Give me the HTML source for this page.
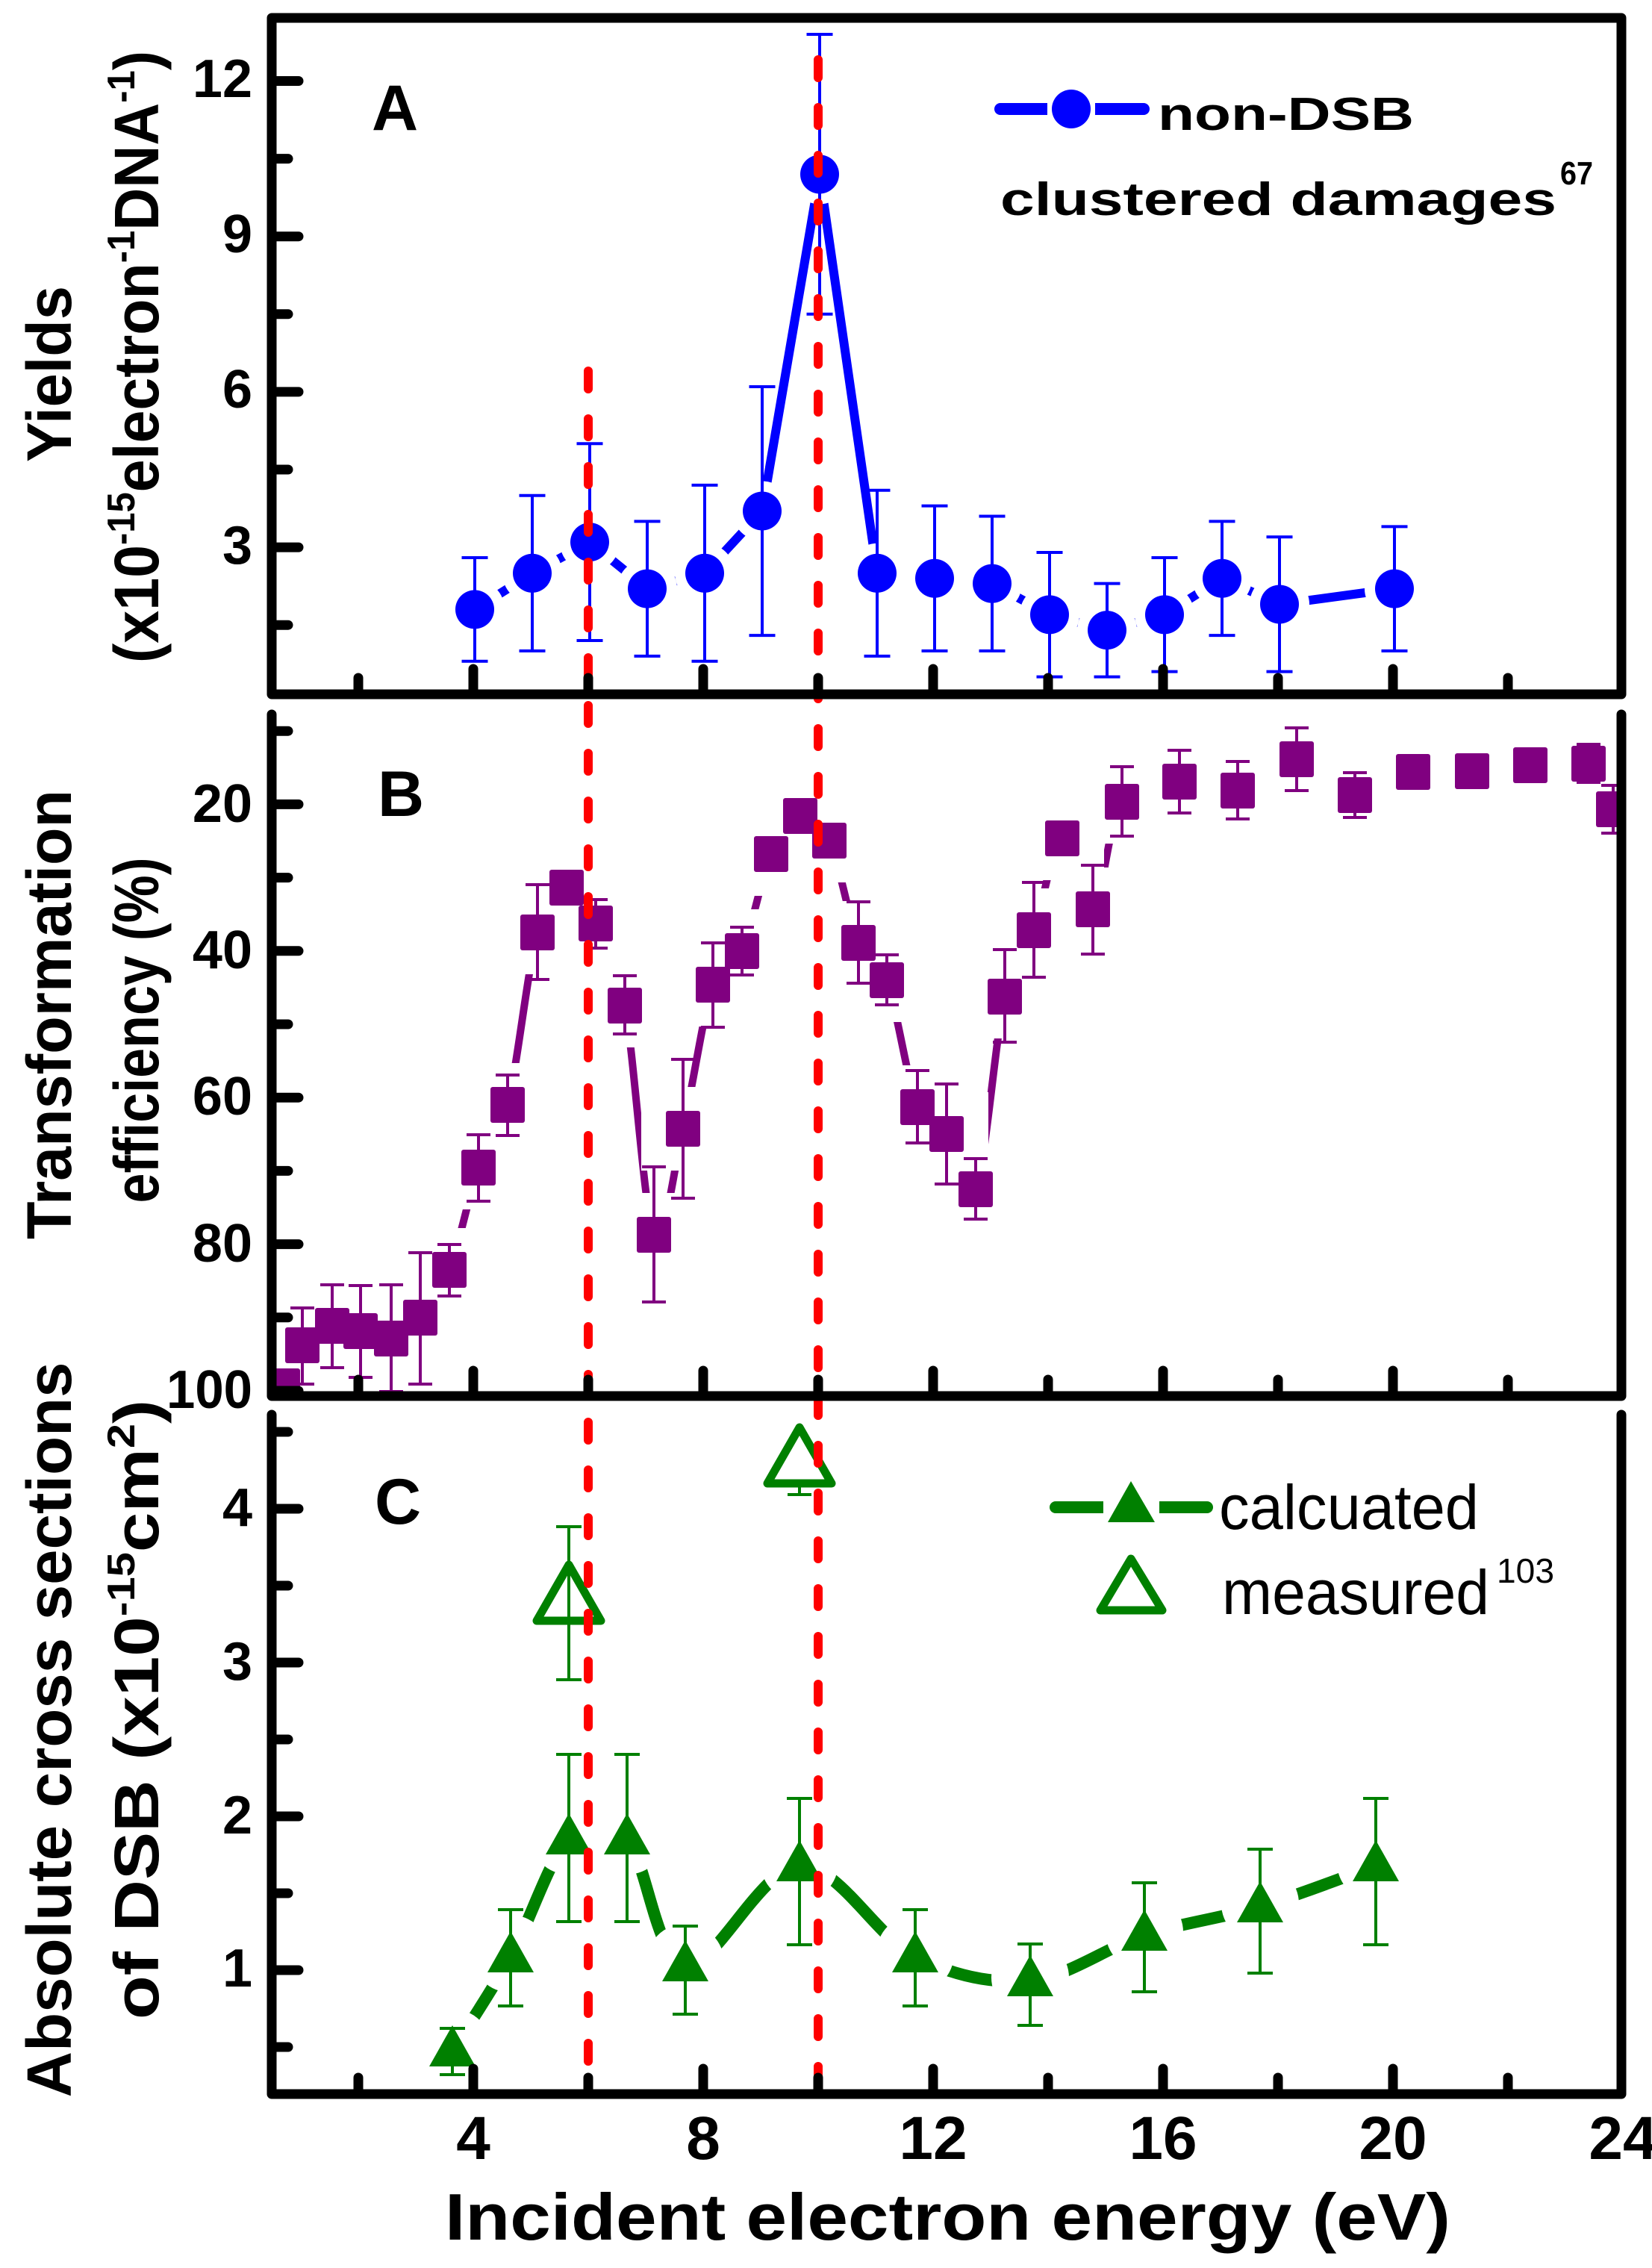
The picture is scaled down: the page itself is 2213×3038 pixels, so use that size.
<!DOCTYPE html>
<html><head><meta charset="utf-8"><style>
html,body{margin:0;padding:0;background:#fff}
svg{display:block}
text{font-family:"Liberation Sans",Arial,sans-serif}
</style></head><body>
<svg id="s" xmlns="http://www.w3.org/2000/svg" width="2213" height="3038" viewBox="0 0 2213 3038">
<defs>
<clipPath id="cB"><rect x="364" y="957" width="1808" height="913"/></clipPath>
</defs>
<g id="data"></g>
<g id="reds" stroke="#ff0000" stroke-width="12" stroke-linecap="round" stroke-dasharray="24 40" fill="none">
<line x1="788" y1="497" x2="788" y2="2787"/>
<line x1="1096" y1="80" x2="1096" y2="2787"/>
</g>
<g id="frames" fill="none" stroke="#000" stroke-width="13" stroke-linejoin="round" stroke-linecap="round">
<rect x="364" y="24" width="1808" height="906"/>
<path d="M364 957 V1870 H2172 V957"/>
<path d="M364 1895 V2805 H2172 V1895"/>
</g>
<g id="ticks" stroke="#000" stroke-width="13" stroke-linecap="round"></g>
<g font-weight="bold" fill="#000" font-size="72" text-anchor="end">
<text x="338" y="130">12</text>
<text x="338" y="338">9</text>
<text x="338" y="546">6</text>
<text x="338" y="755">3</text>
<text x="338" y="1101">20</text>
<text x="338" y="1297">40</text>
<text x="338" y="1493">60</text>
<text x="338" y="1690">80</text>
<text x="338" y="1886" textLength="115" lengthAdjust="spacingAndGlyphs">100</text>
<text x="338" y="2044">4</text>
<text x="338" y="2250">3</text>
<text x="338" y="2456">2</text>
<text x="338" y="2661">1</text>
</g>
<g font-weight="bold" fill="#000" font-size="82" text-anchor="middle">
<text x="634" y="2892">4</text>
<text x="942" y="2892">8</text>
<text x="1250" y="2892">12</text>
<text x="1558" y="2892">16</text>
<text x="1866" y="2892">20</text>
<text x="2174" y="2892">24</text>
</g>
<text x="596" y="3000" font-weight="bold" font-size="88" textLength="1347" lengthAdjust="spacingAndGlyphs">Incident electron energy (eV)</text>
<g font-weight="bold" font-size="86">
<text x="498" y="174">A</text>
<text x="506" y="1093">B</text>
<text x="502" y="2041">C</text>
</g>
<g font-weight="bold" font-size="84" text-anchor="middle">
<text transform="translate(95,501) rotate(-90)" textLength="236" lengthAdjust="spacingAndGlyphs">Yields</text>
<text transform="translate(212,478) rotate(-90)" textLength="820" lengthAdjust="spacingAndGlyphs">(x10<tspan font-size="52" dy="-32">-15</tspan><tspan dy="32">electron</tspan><tspan font-size="52" dy="-32">-1</tspan><tspan dy="32">DNA</tspan><tspan font-size="52" dy="-32">-1</tspan><tspan dy="32">)</tspan></text>
<text transform="translate(95,1359) rotate(-90)" textLength="602" lengthAdjust="spacingAndGlyphs">Transformation</text>
<text transform="translate(212,1380) rotate(-90)" textLength="463" lengthAdjust="spacingAndGlyphs">efficiency (%)</text>
<text transform="translate(95,2317) rotate(-90)" textLength="985" lengthAdjust="spacingAndGlyphs">Absolute cross sections</text>
<text transform="translate(212,2290) rotate(-90)" textLength="830" lengthAdjust="spacingAndGlyphs">of DSB (x10<tspan font-size="52" dy="-32">-15</tspan><tspan dy="32">cm</tspan><tspan font-size="52" dy="-32">2</tspan><tspan dy="32">)</tspan></text>
</g>
<!-- legend A -->
<line x1="1340" y1="146" x2="1532" y2="146" stroke="#0000ff" stroke-width="16" stroke-linecap="round"/>
<line x1="1403" y1="146" x2="1467" y2="146" stroke="#fff" stroke-width="20"/>
<circle cx="1435" cy="146" r="26" fill="#0000ff"/>
<text x="1551" y="174" font-weight="bold" font-size="62" textLength="343" lengthAdjust="spacingAndGlyphs">non-DSB</text>
<text x="1340" y="288" font-weight="bold" font-size="62" textLength="745" lengthAdjust="spacingAndGlyphs">clustered damages</text>
<text x="2090" y="247" font-weight="bold" font-size="44" textLength="44" lengthAdjust="spacingAndGlyphs">67</text>
<!-- legend C -->
<line x1="1414" y1="2019" x2="1617" y2="2019" stroke="#008000" stroke-width="16" stroke-linecap="round"/>
<line x1="1478" y1="2019" x2="1553" y2="2019" stroke="#fff" stroke-width="20"/>
<polygon points="1515,1984 1547,2039 1484,2039" fill="#008000"/>
<text x="1633" y="2048" font-size="84" textLength="348" lengthAdjust="spacingAndGlyphs">calcuated</text>
<polygon points="1515,2088 1557,2157 1474,2157" fill="none" stroke="#008000" stroke-width="11" stroke-linejoin="round"/>
<text x="1637" y="2162" font-size="84" textLength="358" lengthAdjust="spacingAndGlyphs">measured</text>
<text x="2005" y="2120" font-size="46" textLength="77" lengthAdjust="spacingAndGlyphs">103</text>
</svg>
<script>
(function(){
var NS="http://www.w3.org/2000/svg";
var D=document.getElementById('data'), T=document.getElementById('ticks');
function el(n,a,p){var e=document.createElementNS(NS,n);for(var k in a)e.setAttribute(k,a[k]);(p||D).appendChild(e);return e;}
function X(e){return 326+77*e;}
function spline(P){var d="M"+P[0][0]+" "+P[0][1];
 for(var i=0;i<P.length-1;i++){var p0=P[Math.max(0,i-1)],p1=P[i],p2=P[i+1],p3=P[Math.min(P.length-1,i+2)];
 d+=" C"+(p1[0]+(p2[0]-p0[0])/6)+" "+(p1[1]+(p2[1]-p0[1])/6)+" "+(p2[0]-(p3[0]-p1[0])/6)+" "+(p2[1]-(p3[1]-p1[1])/6)+" "+p2[0]+" "+p2[1];}
 return d;}
function ebar(x,t,b,c,cw){ if(t==null)return;
 el('line',{x1:x,y1:t,x2:x,y2:b,stroke:c,'stroke-width':4});
 el('line',{x1:x-cw/2,y1:t,x2:x+cw/2,y2:t,stroke:c,'stroke-width':4});
 el('line',{x1:x-cw/2,y1:b,x2:x+cw/2,y2:b,stroke:c,'stroke-width':4});}
// Panel A
function YA(v){return 941.3-69.4*v;}
var A=[[4,1.8,2.8,0.8],[5,2.5,4.0,1.0],[6,3.1,5.0,1.2],[7,2.2,3.5,0.9],[8,2.5,4.2,0.8],[9,3.7,6.1,1.3],[10,10.2,12.9,7.5],[11,2.5,4.1,0.9],[12,2.4,3.8,1.0],[13,2.3,3.6,1.0],[14,1.7,2.9,0.5],[15,1.4,2.3,0.5],[16,1.7,2.8,0.6],[17,2.4,3.5,1.3],[18,1.9,3.2,0.6],[20,2.2,3.4,1.0]];
var pts=A.map(function(a){return [X(a[0])+2,YA(a[1])];});
el('polyline',{points:pts.map(function(p){return p.join(',')}).join(' '),fill:'none',stroke:'#0000ff','stroke-width':12,'stroke-linejoin':'round'});
pts.forEach(function(p){el('circle',{cx:p[0],cy:p[1],r:40,fill:'#fff'});});
A.forEach(function(a,i){ebar(pts[i][0],YA(a[2]),YA(a[3]),'#0000ff',35);});
pts.forEach(function(p){el('circle',{cx:p[0],cy:p[1],r:26,fill:'#0000ff'});});
// Panel B
var gB=el('g',{'clip-path':'url(#cB)'});
var B=[[379,1857],[405,1802,1752,1854],[445,1776,1721,1832],[483,1783,1722,1845],[524,1793,1721,1864],[563,1765,1678,1854],[602,1701,1667,1736],[641,1564,1520,1609],[680,1480,1440,1521],[720,1249,1185,1312],[759,1189],[798,1237,1205,1270],[837,1347,1307,1385],[876,1654,1563,1744],[915,1512,1419,1605],[955,1319,1263,1376],[994,1274,1242,1306],[1033,1144],[1072,1093],[1111,1126],[1150,1263,1208,1317],[1188,1313,1279,1346],[1229,1483,1434,1531],[1268,1519,1452,1586],[1307,1593,1552,1633],[1346,1335,1272,1396],[1385,1246,1182,1309],[1423,1123],[1464,1218,1159,1278],[1503,1074,1027,1120],[1580,1047,1005,1089],[1658,1059,1020,1097],[1737,1017,975,1059],[1815,1065,1035,1095],[1893,1034],[1972,1033],[2050,1025],[2128,1023,997,1048],[2161,1084,1052,1116]];
el('path',{d:spline(B),fill:'none',stroke:'#800080','stroke-width':10,'stroke-linecap':'round'},gB);
B.forEach(function(p){el('rect',{x:p[0]-56,y:p[1]-56,width:112,height:112,fill:'#fff'},gB);});
B.forEach(function(p){ if(p[2]){var g=gB;var x=p[0];
 el('line',{x1:x,y1:p[2],x2:x,y2:p[3],stroke:'#800080','stroke-width':4},g);
 el('line',{x1:x-16,y1:p[2],x2:x+16,y2:p[2],stroke:'#800080','stroke-width':4},g);
 el('line',{x1:x-16,y1:p[3],x2:x+16,y2:p[3],stroke:'#800080','stroke-width':4},g);}});
B.forEach(function(p){el('rect',{x:p[0]-23,y:p[1]-24,width:46,height:48,rx:3,fill:'#800080'},gB);});
// Panel C
var C=[[606,2747,2717,2779],[684,2621,2558,2687],[762,2463,2350,2574],[840,2463,2350,2574],[918,2633,2580,2698],[1071,2499,2409,2605],[1226,2621,2558,2687],[1380,2653,2604,2713],[1533,2592,2522,2668],[1688,2554,2477,2643],[1843,2499,2409,2605]];
el('path',{d:spline(C),fill:'none',stroke:'#008000','stroke-width':16,'stroke-linecap':'round'});
C.forEach(function(p){el('circle',{cx:p[0],cy:p[1]-4,r:52,fill:'#fff'});});
C.forEach(function(p){ebar(p[0],p[2],p[3],'#008000',34);});
C.forEach(function(p){var x=p[0],y=p[1];el('polygon',{points:(x)+','+(y-34)+' '+(x+31)+','+(y+21)+' '+(x-31)+','+(y+21),fill:'#008000'});});
// measured
ebar(762,2045,2250,'#008000',34);
el('line',{x1:1071,y1:2002,x2:1071,y2:1990,stroke:'#008000','stroke-width':4});
el('line',{x1:1055,y1:2002,x2:1087,y2:2002,stroke:'#008000','stroke-width':4});
[[762,2096,2171],[1071,1912,1987]].forEach(function(t){var x=t[0];
 el('polygon',{points:x+','+t[1]+' '+(x+43)+','+t[2]+' '+(x-43)+','+t[2],fill:'none',stroke:'#008000','stroke-width':11,'stroke-linejoin':'round'});});
// ticks
function tk(x1,y1,x2,y2){el('line',{x1:x1,y1:y1,x2:x2,y2:y2},T);}
var bots=[930,1870,2805];
bots.forEach(function(by){for(var e=2;e<=22;e+=2){var L=(e%4==0)?34:22;tk(X(e),by,X(e),by-L);}});
for(var v=1.5;v<=12;v+=1.5){var L=(v%3==0)?36:22;tk(364,YA(v),364+L,YA(v));}
for(var v=10;v<=100;v+=10){var y=881+9.82*v;var L=(v%20==0)?36:22;tk(364,y,364+L,y);}
for(var v=0.5;v<=4.5;v+=0.5){var y=2845-206*v;var L=(v%1==0)?36:22;tk(364,y,364+L,y);}
})();
</script>
</body></html>
